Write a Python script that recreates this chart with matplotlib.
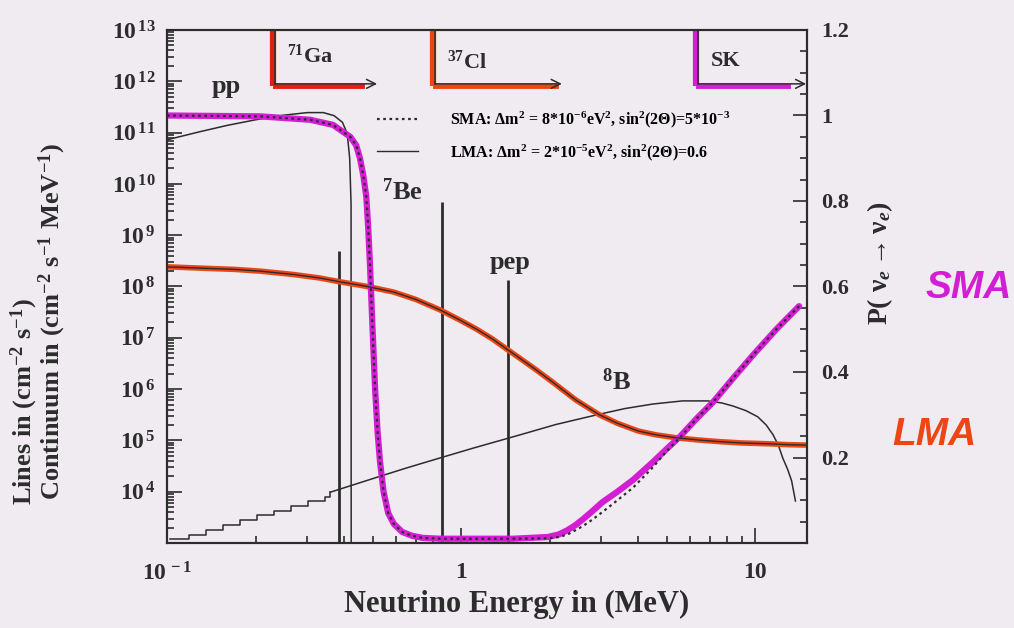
import numpy as np
import matplotlib.pyplot as plt
from matplotlib.ticker import FixedLocator, FixedFormatter, LogLocator, MultipleLocator, NullFormatter

plt.rcParams['font.family'] = 'Liberation Serif'
plt.rcParams['font.weight'] = 'bold'
plt.rcParams['mathtext.fontset'] = 'custom'
plt.rcParams['mathtext.rm'] = 'Liberation Serif:bold'
plt.rcParams['mathtext.it'] = 'Liberation Serif:italic:bold'
plt.rcParams['mathtext.bf'] = 'Liberation Serif:bold'

paper = '#efebf0'
ink = '#2c2c2c'
magenta = '#d41ed4'
orange = '#ec4616'
red = '#e41c14'

# solar neutrino spectra: energy (MeV), log10 flux
pp_e = [0.1, 0.13, 0.16, 0.2, 0.25, 0.3, 0.34, 0.37, 0.395, 0.41, 0.418, 0.4225, 0.423]
pp_logf = [10.86, 11.02, 11.14, 11.25, 11.34, 11.39, 11.39, 11.33, 11.2, 10.98, 10.5, 9.6, 2.0]

b8_step_e = [0.102, 0.119, 0.136, 0.155, 0.177, 0.202, 0.231, 0.264, 0.301, 0.344, 0.359]
b8_step_logf = [3.07, 3.15, 3.25, 3.35, 3.45, 3.54, 3.63, 3.72, 3.81, 3.90, 3.99]

b8_e = [0.359, 0.45, 0.53, 0.65, 0.85, 1.1, 1.59, 2.1, 2.9, 3.6, 4.5, 5.66, 6.9, 7.7,
        8.4, 9.3, 10.2, 10.9, 11.5, 12.0, 12.4, 12.9, 13.3, 13.7]
b8_logf = [3.99, 4.17, 4.3, 4.46, 4.66, 4.85, 5.11, 5.31, 5.5, 5.62, 5.71, 5.77, 5.77, 5.73,
           5.67, 5.58, 5.46, 5.3, 5.11, 4.9, 4.66, 4.43, 4.21, 3.82]

line_e = [0.384, 0.862, 1.442]
line_logf = [8.7, 9.65, 8.13]

# electron neutrino survival probability
lma_e = [0.1, 0.13, 0.17, 0.207, 0.27, 0.33, 0.387, 0.48, 0.59, 0.7, 0.85, 1.0, 1.13, 1.28,
         1.42, 1.6, 1.8, 2.06, 2.45, 2.95, 3.4, 4.0, 4.6, 5.4, 6.4, 7.6, 9.0, 11.2, 13.0, 15.0]
lma_p = [0.646, 0.643, 0.64, 0.636, 0.628, 0.62, 0.611, 0.6, 0.587, 0.57, 0.545, 0.52, 0.5,
         0.477, 0.455, 0.43, 0.405, 0.375, 0.335, 0.3, 0.28, 0.262, 0.253, 0.246, 0.241,
         0.237, 0.234, 0.232, 0.23, 0.229]

sma_e = [0.1, 0.207, 0.307, 0.367, 0.42, 0.44, 0.453, 0.465, 0.476, 0.483, 0.49, 0.5, 0.51,
         0.52, 0.53, 0.545, 0.565, 0.59, 0.63, 0.68, 0.74, 0.85, 1.0, 1.5, 1.97, 2.15, 2.3,
         2.45, 2.6, 2.8, 3.03, 3.4, 3.85, 4.5, 5.0, 5.57, 6.3, 7.2, 8.4, 9.9, 11.8, 14.1]
sma_p = [1.0, 0.998, 0.99, 0.978, 0.95, 0.93, 0.9, 0.86, 0.81, 0.74, 0.65, 0.5, 0.36,
         0.26, 0.19, 0.12, 0.07, 0.045, 0.026, 0.017, 0.012, 0.01, 0.01, 0.01, 0.014, 0.02,
         0.03, 0.042, 0.056, 0.075, 0.096, 0.12, 0.148, 0.19, 0.22, 0.25, 0.29, 0.33, 0.385,
         0.442, 0.5, 0.554]
sma_dot_e = sma_e
sma_dot_p = [1.0, 0.998, 0.99, 0.978, 0.95, 0.93, 0.9, 0.86, 0.81, 0.74, 0.65, 0.5, 0.36,
             0.26, 0.19, 0.12, 0.07, 0.045, 0.026, 0.017, 0.012, 0.01, 0.01, 0.01, 0.011, 0.014,
             0.02, 0.03, 0.04, 0.055, 0.073, 0.1, 0.13, 0.178, 0.215, 0.248, 0.29, 0.33, 0.385,
             0.442, 0.5, 0.554]

# detector thresholds
det_names = ['$^{71}$Ga', '$^{37}$Cl', 'SK']
det_thresh = [0.233, 0.814, 6.4]
det_arrow_end = [0.518, 2.2, 14.9]
det_paint_end = [0.46, 2.1, 12.9]
det_colors = [red, orange, magenta]
det_label_logy = [12.49, 12.38, 12.4]

fig = plt.figure(figsize=(10.14, 6.28), dpi=100, facecolor=paper)
ax = fig.add_axes([167/1014, 1 - 543/628, 640/1014, 513/628], facecolor=paper)
ax.set_xscale('log')
ax.set_yscale('log')
ax.set_xlim(0.1, 15)
ax.set_ylim(1e3, 1e13)

ax2 = ax.twinx()
ax2.set_ylim(0, 1.2)

# spectra and lines
ax.plot(pp_e, 10**np.array(pp_logf), color=ink, lw=1.1)
ax.plot(b8_step_e, 10**np.array(b8_step_logf), color=ink, lw=1.1, drawstyle='steps-post')
ax.plot(b8_e, 10**np.array(b8_logf), color=ink, lw=1.1)
ax.vlines(line_e, 1e2, 10**np.array(line_logf), color=ink, lw=2.0)

# threshold boxes along the top
for name, t, end, pend, c, ly in zip(det_names, det_thresh, det_arrow_end, det_paint_end,
                                      det_colors, det_label_logy):
    ax.plot([t * 0.985, t * 0.985], [1e13, 10**11.9], color=c, lw=4.5, solid_capstyle='butt')
    ax.plot([t, pend], [10**11.9, 10**11.9], color=c, lw=3.5)
    ax.plot([t, t], [1e13, 10**11.95], color=ink, lw=1.1)
    ax.annotate('', xy=(end, 10**11.95), xytext=(t, 10**11.95),
                arrowprops=dict(arrowstyle='->', color=ink, lw=1.1, mutation_scale=16,
                                shrinkA=0, shrinkB=0))
    ax.text(t * 1.1, 10**ly, name, fontsize=16, color=ink, ha='left', va='center')

ax.text(0.159, 10**11.89, 'pp', fontsize=19, color=ink, ha='center', va='center')
ax.text(0.63, 10**9.84, '$^{7}$Be', fontsize=19, color=ink, ha='center', va='center')
ax.text(1.47, 10**8.46, 'pep', fontsize=19, color=ink, ha='center', va='center')
ax.text(3.37, 10**6.14, '$^{8}$B', fontsize=19, color=ink, ha='center', va='center')

# survival probabilities
ax2.plot(lma_e, lma_p, color=orange, lw=4.0, solid_capstyle='round')
ax2.plot(sma_e, sma_p, color=magenta, lw=4.5, solid_capstyle='round')
sma_line, = ax2.plot(sma_dot_e, sma_dot_p, color=ink, lw=1.6, ls=(0, (1.2, 1.6)),
                     label='SMA: Δm$^2$ = 8*10$^{-6}$eV$^2$, sin$^2$(2Θ)=5*10$^{-3}$')
lma_line, = ax2.plot(lma_e, lma_p, color=ink, lw=1.0,
                     label='LMA: Δm$^2$ = 2*10$^{-5}$eV$^2$, sin$^2$(2Θ)=0.6')
ax2.legend(handles=[sma_line, lma_line], loc='upper left', bbox_to_anchor=(0.328, 0.845),
           frameon=False, fontsize=11.5, handlelength=2.6, handletextpad=2.0,
           labelspacing=0.75, borderpad=0, borderaxespad=0)

# axes styling
for a in (ax, ax2):
    for s in a.spines.values():
        s.set_color(ink)
        s.set_linewidth(1.5)

ax.yaxis.set_major_locator(FixedLocator([10.0**k for k in range(3, 14)]))
ax.yaxis.set_major_formatter(FixedFormatter([''] + ['$10^{\\,%d}$' % k for k in range(4, 14)]))
ax.yaxis.set_minor_locator(LogLocator(base=10, subs=np.arange(2, 10), numticks=20))
ax.yaxis.set_minor_formatter(NullFormatter())
ax.xaxis.set_major_locator(FixedLocator([0.1, 1, 10]))
ax.xaxis.set_major_formatter(FixedFormatter(['$10^{\\,-1}$', '1', '10']))
ax.xaxis.set_minor_locator(LogLocator(base=10, subs=np.arange(2, 10), numticks=20))
ax.xaxis.set_minor_formatter(NullFormatter())
ax.tick_params(which='both', direction='in', colors=ink, top=False, right=False, width=1.2)
ax.tick_params(which='major', length=11)
ax.tick_params(which='minor', length=5)
ax.tick_params(axis='y', which='major', labelsize=17, pad=8)
ax.tick_params(axis='x', which='major', labelsize=17, pad=14)

ax2.yaxis.set_minor_locator(MultipleLocator(0.05))
ax2.set_yticks([0, 0.2, 0.4, 0.6, 0.8, 1.0, 1.2])
ax2.set_yticklabels(['', '0.2', '0.4', '0.6', '0.8', '1', '1.2'])
ax2.tick_params(which='both', direction='in', colors=ink, width=1.2)
ax2.tick_params(which='major', length=10, labelsize=16, pad=10)
ax2.tick_params(which='minor', length=5)

# axis titles
fig.text(0.024, 1 - 505/628, 'Lines in (cm$^{-2}$ s$^{-1}$)', rotation=90,
         ha='center', va='bottom', fontsize=19, color=ink)
fig.text(0.052, 1 - 500/628, 'Continuum in (cm$^{-2}$ s$^{-1}$ MeV$^{-1}$)', rotation=90,
         ha='center', va='bottom', fontsize=19, color=ink)
fig.text(0.509, 0.037, 'Neutrino Energy in (MeV)', ha='center', va='center',
         fontsize=22, color=ink)
fig.text(0.868, 0.581, 'P( ν$_e$$\\rightarrow$ν$_e$)', rotation=90, ha='center',
         va='center', fontsize=20, color=ink)

fig.text(0.955, 0.541, 'SMA', color=magenta, fontfamily='Liberation Sans', fontstyle='italic',
         fontweight='bold', fontsize=28, ha='center', va='center')
fig.text(0.922, 0.307, 'LMA', color=orange, fontfamily='Liberation Sans', fontstyle='italic',
         fontweight='bold', fontsize=28, ha='center', va='center')

fig.savefig('out.png', dpi=100, facecolor=paper)
